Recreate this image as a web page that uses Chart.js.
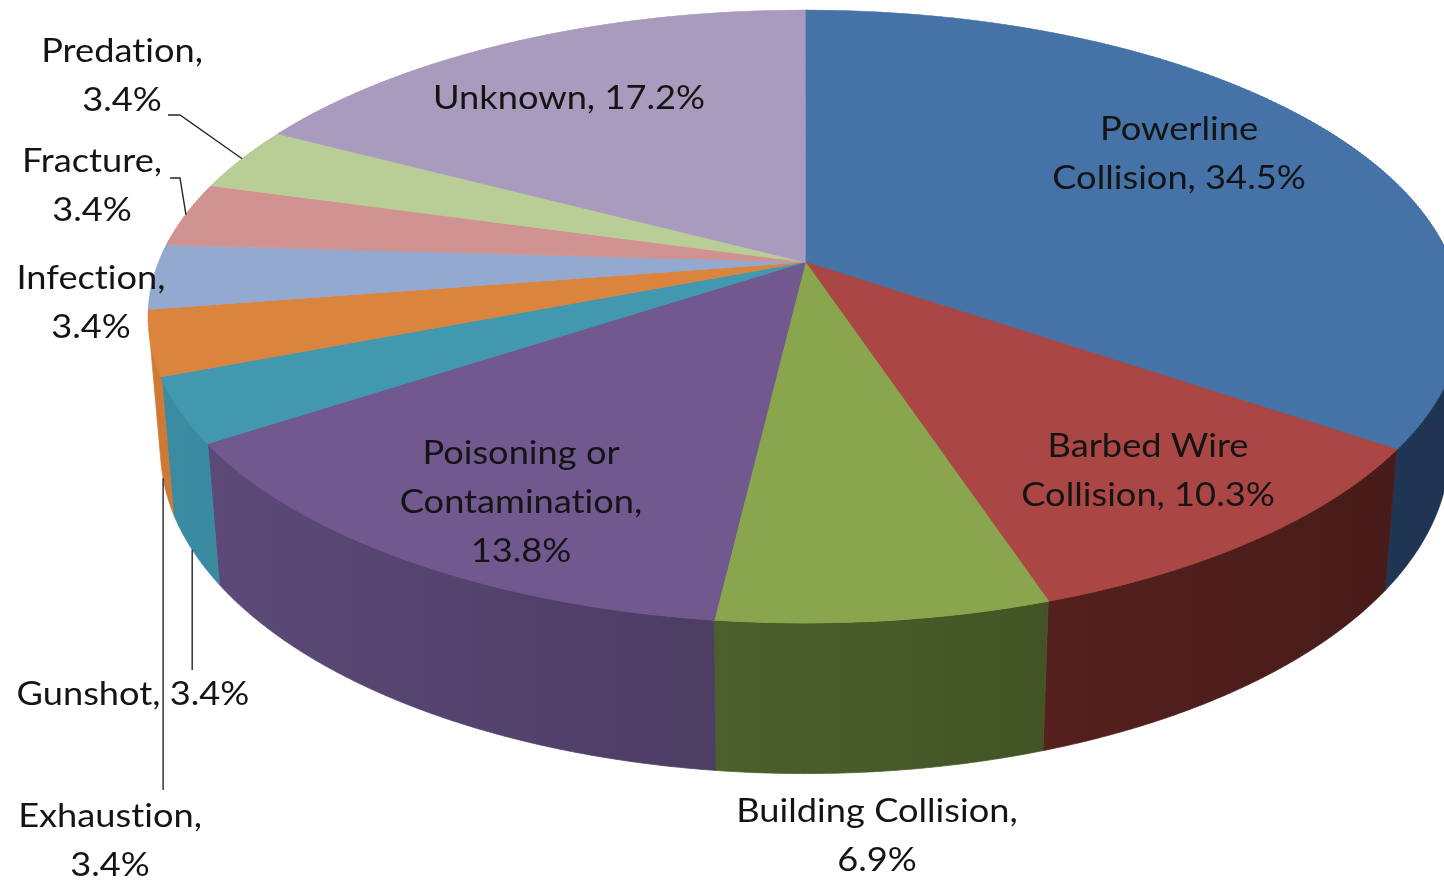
<!DOCTYPE html>
<html>
<head>
<meta charset="utf-8">
<style>
  html, body { margin: 0; padding: 0; background: #ffffff; }
  canvas { display: block; }
</style>
<script src="https://cdn.jsdelivr.net/npm/chart.js@4.4.1/dist/chart.umd.min.js"></script>
</head>
<body>
<canvas id="chart" width="1444" height="880"></canvas>
<script>
// ---------------- data ----------------
const categories = ['Powerline Collision', 'Barbed Wire Collision', 'Building Collision',
  'Poisoning or Contamination', 'Gunshot', 'Exhaustion', 'Infection', 'Fracture', 'Predation', 'Unknown'];
const percentages = [34.5, 10.3, 6.9, 13.8, 3.4, 3.4, 3.4, 3.4, 3.4, 17.2];

// ---------------- styles ----------------
const topColors  = ['#4572A7', '#AA4643', '#89A54E', '#71588F', '#4198AF', '#DB843D', '#93A9CF', '#D19392', '#B9CD96', '#A99BBD'];
const sideColors = ['#1F3452', '#4D1D1B', '#475A28', '#55446F', '#3A8BA1', '#CF7934', '#6F83A6', '#A8706F', '#8E9E70', '#7F7391'];

// label layout: words per line, text centre of first line, leader lines
const labelWrap = [[1, 2], [2, 2], [2, 1], [2, 1, 1], [2], [1, 1], [1, 1], [1, 1], [1, 1], [2]];
const labelPos  = [[1179, 128], [1148, 445], [877, 810], [521, 452], [133, 693], [110, 815], [91, 277], [92, 160], [122, 50], [569, 97]];
const leaders = {
  4: { rim: 1, toY: 670 },
  5: { rim: 1, toY: 790 },
  7: { rim: 0, from: [[170, 178], [180, 178]] },
  8: { rim: 0, from: [[168, 115], [180, 115]] }
};
const FONT_PX = 33, LINE_H = 49, REF_TEXT = 'Unknown, 17.2%', REF_WIDTH = 272;
const FONT_FAMILY = "Lato, 'Open Sans', 'Liberation Sans', sans-serif";

// 3D view (perspective) of the pie
const VIEW = { cx: 805, cy: 262, a: 646, b: 296.8, k: 0.1778, mb: 0.018, nb: 133 };

function proj(u, v, z) {
  const W = 1 - VIEW.k * v + VIEW.mb * z;
  return [VIEW.cx + VIEW.a * u / W, VIEW.cy + (VIEW.b * v + VIEW.nb * z) / W];
}
function frontFacing(ang) {
  const e = 1e-3;
  const p1 = proj(Math.cos(ang - e), Math.sin(ang - e), 0);
  const p2 = proj(Math.cos(ang + e), Math.sin(ang + e), 0);
  const t = proj(Math.cos(ang), Math.sin(ang), 0);
  const b = proj(Math.cos(ang), Math.sin(ang), 1);
  const Tx = p2[0] - p1[0], Ty = p2[1] - p1[1];
  const Dx = b[0] - t[0], Dy = b[1] - t[1];
  return Tx * Dy - Ty * Dx < 0;
}
function shade(hex, f) {
  const n = parseInt(hex.slice(1), 16);
  const r = Math.min(255, Math.round(((n >> 16) & 255) * f));
  const g = Math.min(255, Math.round(((n >> 8) & 255) * f));
  const bl = Math.min(255, Math.round((n & 255) * f));
  return `rgb(${r},${g},${bl})`;
}

const pie3d = {
  id: 'pie3d',
  beforeDatasetsDraw(chart) {
    const ctx = chart.ctx;
    const arcs = chart.getDatasetMeta(0).data;
    const base = ctx.getTransform();

    // ---- outer walls (front-facing part) ----
    arcs.forEach((el, i) => {
      const a0 = el.startAngle, a1 = el.endAngle;
      const n = Math.max(2, Math.ceil((a1 - a0) / 0.003));
      const angs = [];
      for (let j = 0; j <= n; j++) {
        const a = a0 + (a1 - a0) * j / n;
        if (frontFacing(a)) angs.push(a);
      }
      if (angs.length < 2) return;
      const top = angs.map(a => proj(Math.cos(a), Math.sin(a), 0));
      const bot = angs.map(a => proj(Math.cos(a), Math.sin(a), 1));
      const xs = top.concat(bot).map(p => p[0]);
      const xmin = Math.min(...xs), xmax = Math.max(...xs);
      const uMid = Math.cos((angs[0] + angs[angs.length - 1]) / 2);
      const g = u => (1 - 0.3 * u) / (1 - 0.3 * uMid);
      const uL = Math.min(...angs.map(a => Math.cos(a)));
      const uR = Math.max(...angs.map(a => Math.cos(a)));
      const grad = ctx.createLinearGradient(xmin, 0, Math.max(xmax, xmin + 1), 0);
      grad.addColorStop(0, shade(sideColors[i], g(uL)));
      grad.addColorStop(1, shade(sideColors[i], g(uR)));
      ctx.save();
      ctx.beginPath();
      top.forEach((p, j) => j ? ctx.lineTo(p[0], p[1]) : ctx.moveTo(p[0], p[1]));
      for (let j = bot.length - 1; j >= 0; j--) ctx.lineTo(bot[j][0], bot[j][1]);
      ctx.closePath();
      ctx.fillStyle = grad;
      ctx.strokeStyle = grad;
      ctx.lineWidth = 0.8;
      ctx.fill();
      ctx.stroke();
      ctx.restore();
    });

    // ---- top face: library arcs drawn strip by strip through the perspective ----
    const el0 = arcs[0];
    const ax = el0.x, ay = el0.y, R = el0.outerRadius;
    const yTop = Math.floor(VIEW.cy - VIEW.b / (1 + VIEW.k)) - 2;
    const yBot = Math.ceil(VIEW.cy + VIEW.b / (1 - VIEW.k)) + 2;
    const S = 2;
    for (let y0 = yTop; y0 < yBot; y0 += S) {
      const ym = y0 + S / 2;
      const t = ym - VIEW.cy;
      const v = t / (VIEW.b + VIEW.k * t);
      if (v < -1.02 || v > 1.02) continue;
      const sx = VIEW.a / (1 - VIEW.k * v);
      const sy = VIEW.b / Math.pow(1 - VIEW.k * v, 2);
      ctx.save();
      ctx.beginPath();
      ctx.rect(0, y0, chart.width, S);
      ctx.clip();
      const m = new DOMMatrix([sx / R, 0, 0, sy / R, VIEW.cx - sx * ax / R, ym - sy * v - sy * ay / R]);
      ctx.setTransform(base.multiply(m));
      arcs.forEach(el => el.draw(ctx));
      ctx.restore();
    }
    return false;
  },
  afterDraw(chart) {
    const ctx = chart.ctx;
    const arcs = chart.getDatasetMeta(0).data;
    ctx.save();
    // leader lines
    ctx.strokeStyle = '#262626';
    ctx.lineWidth = 1.4;
    Object.keys(leaders).forEach(key => {
      const i = +key, L = leaders[key], el = arcs[i];
      const am = (el.startAngle + el.endAngle) / 2;
      const rp = proj(Math.cos(am), Math.sin(am), L.rim);
      ctx.beginPath();
      if (L.from) {
        ctx.moveTo(L.from[0][0], L.from[0][1]);
        for (let j = 1; j < L.from.length; j++) ctx.lineTo(L.from[j][0], L.from[j][1]);
        ctx.lineTo(rp[0], rp[1]);
      } else {
        ctx.moveTo(rp[0], rp[1]);
        ctx.lineTo(rp[0], L.toY);
      }
      ctx.stroke();
    });
    // labels
    ctx.font = `${FONT_PX}px ${FONT_FAMILY}`;
    if ('letterSpacing' in ctx) ctx.letterSpacing = '0.01px';
    const hScale = REF_WIDTH / ctx.measureText(REF_TEXT).width;
    ctx.textAlign = 'center';
    ctx.textBaseline = 'alphabetic';
    ctx.fillStyle = '#141414';
    categories.forEach((cat, i) => {
      const words = (cat + ', ' + percentages[i].toFixed(1) + '%').split(' ');
      const lines = [];
      let w = 0;
      labelWrap[i].forEach(cnt => { lines.push(words.slice(w, w + cnt).join(' ')); w += cnt; });
      const [lx, ly] = labelPos[i];
      lines.forEach((line, j) => {
        ctx.save();
        ctx.translate(lx, ly + j * LINE_H + FONT_PX * 0.36);
        ctx.scale(hScale, 1);
        ctx.fillText(line, 0, 0);
        ctx.restore();
      });
    });
    ctx.restore();
  }
};

new Chart(document.getElementById('chart').getContext('2d'), {
  type: 'pie',
  data: {
    labels: categories,
    datasets: [{
      data: percentages,
      backgroundColor: topColors,
      borderColor: topColors,
      borderWidth: 1
    }]
  },
  options: {
    responsive: false,
    animation: false,
    devicePixelRatio: 1,
    events: [],
    layout: { padding: 0 },
    plugins: { legend: { display: false }, tooltip: { enabled: false } }
  },
  plugins: [pie3d]
});
</script>
</body>
</html>
